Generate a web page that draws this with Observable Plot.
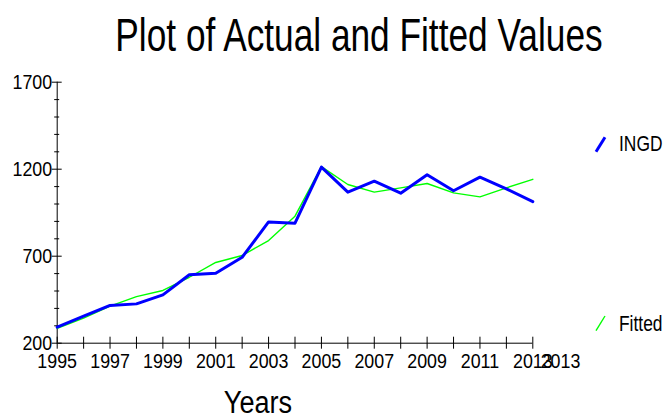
<!DOCTYPE html>
<html>
<head>
<meta charset="utf-8">
<script src="https://cdn.jsdelivr.net/npm/d3@7"></script>
<script src="https://cdn.jsdelivr.net/npm/@observablehq/plot@0.6"></script>
<style>
  html, body { margin: 0; padding: 0; background: #fff; }
  #wrap { position: relative; width: 664px; height: 417px; overflow: hidden; font-family: "Liberation Sans", Arial, sans-serif; color: #000; }
  #title { position: absolute; left: 0; top: 11px; width: 718px; text-align: center; font-size: 47px; line-height: 47px; white-space: nowrap; transform: scaleX(0.75); transform-origin: 359px 0; }
  #chart { position: absolute; left: 0; top: 62px; }
  #xlabel { position: absolute; left: 157.5px; width: 200px; text-align: center; top: 387px; font-size: 31px; line-height: 31px; transform: scaleX(0.875); transform-origin: 100px 0; }
  .legtext { position: absolute; left: 619px; font-size: 22px; line-height: 22px; white-space: nowrap; transform: scaleX(0.79); transform-origin: 0 0; }
  #legsym { position: absolute; left: 0; top: 0; }
</style>
</head>
<body>
<div id="wrap">
  <div id="title"></div>
  <div id="chart"></div>
  <div id="xlabel"></div>
  <div class="legtext" id="leg1" style="top:133px"></div>
  <div class="legtext" id="leg2" style="top:313px"></div>
  <svg id="legsym" width="664" height="417"></svg>
</div>
<script>
const titleText = "Plot of Actual and Fitted Values";
const xTitle = "Years";
const seriesNames = ["INGD", "Fitted"];
const seriesColors = ["#0000ff", "#00ff00"];
const years = [1995, 1996, 1997, 1998, 1999, 2000, 2001, 2002, 2003, 2004, 2005, 2006, 2007, 2008, 2009, 2010, 2011, 2012, 2013];
const ingd = [292, 355, 417, 426, 478, 593, 602, 694, 897, 890, 1212, 1068, 1131, 1062, 1168, 1076, 1154, 1087, 1014];
const fitted = [286, 344, 413, 468, 503, 579, 664, 704, 790, 930, 1215, 1112, 1068, 1093, 1118, 1064, 1041, 1093, 1142];
const xTickLabels = [1995, 1997, 1999, 2001, 2003, 2005, 2007, 2009, 2011, 2013];
const xExtraLabel = "2013";
const yTickLabels = [200, 700, 1200, 1700];
const yMinorTicks = [200, 300, 400, 500, 600, 700, 800, 900, 1000, 1100, 1200, 1300, 1400, 1500, 1600, 1700];

const rowsA = years.map((y, i) => ({year: y, value: ingd[i]}));
const rowsF = years.map((y, i) => ({year: y, value: fitted[i]}));

document.getElementById("title").textContent = titleText;
document.getElementById("xlabel").textContent = xTitle;
document.getElementById("leg1").textContent = seriesNames[0];
document.getElementById("leg2").textContent = seriesNames[1];

const majorSet = new Set(yTickLabels);
const plot = Plot.plot({
  width: 664,
  height: 355,
  marginTop: 19.7,
  marginBottom: 74.3,
  marginLeft: 56.7,
  marginRight: 131.7,
  style: {fontFamily: "'Liberation Sans', Arial, sans-serif", fontSize: "21px", color: "#000", background: "#fff"},
  x: {domain: [years[0], years[years.length - 1]], axis: null},
  y: {domain: [yTickLabels[0], yTickLabels[yTickLabels.length - 1]], axis: null},
  marks: [
    Plot.ruleY([yTickLabels[0]], {stroke: "#000", strokeWidth: 1}),
    Plot.ruleX([years[0]], {stroke: "#000", strokeWidth: 1}),
    Plot.axisY({ticks: yMinorTicks.filter(d => !majorSet.has(d)), tickSize: 5, dx: 2.5, tickFormat: () => "", label: null, stroke: "#000"}),
    Plot.axisY({ticks: yTickLabels, tickSize: 10, dx: 5, tickFormat: () => "", label: null, stroke: "#000"}),
    Plot.axisY({ticks: yTickLabels, tickSize: 5, tickPadding: 0, tickFormat: d => String(d), label: null, stroke: "none", fill: "#000"}),
    Plot.axisX({ticks: years, tickSize: 12, dy: -6, tickFormat: () => "", label: null, stroke: "#000"}),
    Plot.axisX({ticks: xTickLabels, tickSize: 0, tickPadding: 10, tickFormat: d => String(d), label: null, fill: "#000"}),
    Plot.text([years[years.length - 1]], {x: d => d, y: yTickLabels[0], text: () => xExtraLabel, dx: 27.7, dy: 10, lineAnchor: "top", fill: "#000", fontSize: 21}),
    Plot.line(rowsF, {x: "year", y: "value", stroke: seriesColors[1], strokeWidth: 1.4}),
    Plot.line(rowsA, {x: "year", y: "value", stroke: seriesColors[0], strokeWidth: 3}),
  ]
});
// condense SVG text horizontally around its anchor, like the narrow face of the reference
d3.select(plot).selectAll("text").each(function () {
  const t = this.getAttribute("transform") || "";
  this.setAttribute("transform", (t + " scale(0.85,1)").trim());
});
document.getElementById("chart").appendChild(plot);

const ls = d3.select("#legsym");
ls.append("line").attr("x1", 596).attr("y1", 151.7).attr("x2", 605).attr("y2", 137.3).attr("stroke", seriesColors[0]).attr("stroke-width", 3);
ls.append("line").attr("x1", 596).attr("y1", 330.7).attr("x2", 605).attr("y2", 316).attr("stroke", seriesColors[1]).attr("stroke-width", 1.4);
</script>
</body>
</html>
